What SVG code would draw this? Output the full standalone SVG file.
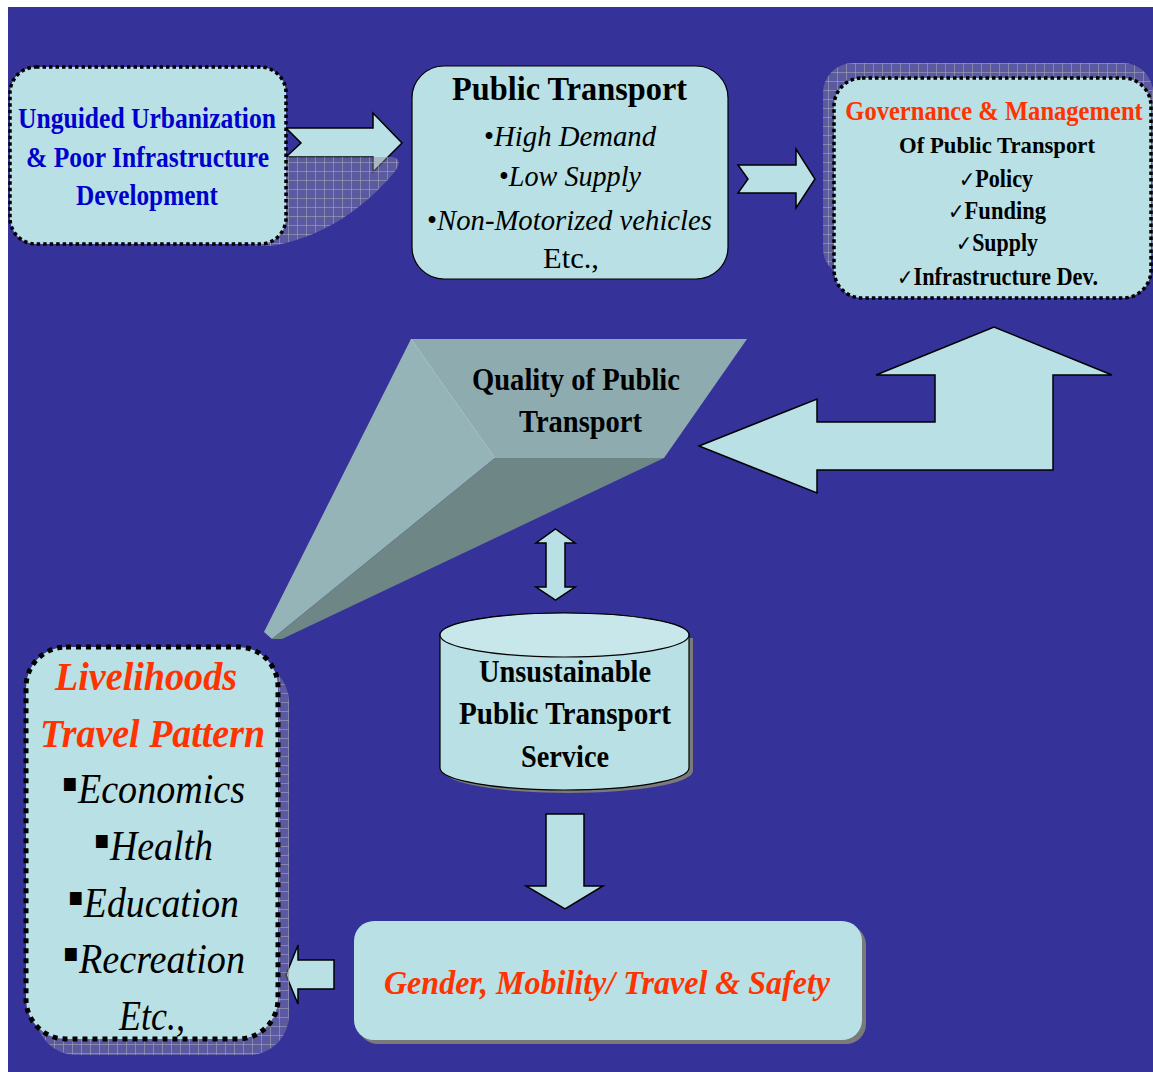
<svg xmlns="http://www.w3.org/2000/svg" width="1153" height="1072" viewBox="0 0 1153 1072">
<defs>
<pattern id="grid" width="9" height="9" patternUnits="userSpaceOnUse">
<rect width="9" height="9" fill="#8a8aa8" fill-opacity="0.45"/>
<path d="M0,0.5 H9 M0.5,0 V9" stroke="#b0b0b8" stroke-opacity="0.5" stroke-width="1" fill="none"/>
</pattern>
<style>
.box{fill:#b9e0e4}
.arrow{fill:#b9e0e4;stroke:#000;stroke-width:1.5;stroke-linejoin:miter}
.t{font-family:"Liberation Serif","Times New Roman",serif;text-anchor:middle}
.b{font-weight:bold}
.i{font-style:italic}
.blue{fill:#0000cc}
.red{fill:#ff3300}
.blk{fill:#000}
.sym{font-family:"DejaVu Sans",sans-serif;font-style:normal;font-weight:normal}
</style>
</defs>
<rect x="0" y="0" width="1153" height="1072" fill="#ffffff"/>
<rect x="8" y="7" width="1145" height="1065" fill="#35339a"/>

<g id="connectors">
<path class="arrow" d="M286,128 L373,128 L373,113 L402,143 L373,172 L373,157 L286,157 L301,143 Z"/>
<path class="arrow" d="M738,165 L796,165 L796,149 L815,179 L796,208 L796,193 L738,193 L748,179 Z"/>
<path class="arrow" d="M699,446 L817,399 L817,422 L935,422 L935,375 L876,375 L994,327 L1112,375 L1053,375 L1053,470 L817,470 L817,493 Z"/>
<path class="arrow" d="M555.5,529 L575,543 L565,543 L565,587 L575,587 L555.5,600 L536,587 L546,587 L546,543 L536,543 Z"/>
<path class="arrow" d="M546,814 L584,814 L584,886 L603,886 L565,909 L526,886 L546,886 Z"/>
<path class="arrow" d="M286,975 L298,945 L298,960 L334,960 L334,989 L298,989 L298,1004 Z"/>
</g>

<g id="node-urbanization">
<path d="M270,157 L392,157 Q403,159 396,170 C372,200 330,236 272,246 L250,246 Z" fill="url(#grid)"/>
<rect class="box" x="10" y="67" width="276" height="177" rx="26" stroke="#000" stroke-width="3.5" stroke-dasharray="3.5 3"/>
<text class="t b blue" font-size="30" x="147" y="128" textLength="258" lengthAdjust="spacingAndGlyphs">Unguided Urbanization</text>
<text class="t b blue" font-size="30" x="147.5" y="167" textLength="243" lengthAdjust="spacingAndGlyphs">&amp; Poor Infrastructure</text>
<text class="t b blue" font-size="30" x="147" y="205" textLength="142" lengthAdjust="spacingAndGlyphs">Development</text>
</g>

<g id="node-public-transport">
<rect class="box" x="412" y="66" width="316" height="213" rx="32" stroke="#000" stroke-width="1.2"/>
<text class="t b blk" font-size="33" x="569.5" y="100" textLength="235" lengthAdjust="spacingAndGlyphs">Public Transport</text>
<text class="t i blk" font-size="30" x="570" y="146" textLength="172" lengthAdjust="spacingAndGlyphs"><tspan font-style="normal">•</tspan>High Demand</text>
<text class="t i blk" font-size="30" x="570" y="186" textLength="142" lengthAdjust="spacingAndGlyphs"><tspan font-style="normal">•</tspan>Low Supply</text>
<text class="t i blk" font-size="30" x="569.5" y="230" textLength="285" lengthAdjust="spacingAndGlyphs"><tspan font-style="normal">•</tspan>Non-Motorized vehicles</text>
<text class="t blk" font-size="30" x="571" y="268" textLength="56" lengthAdjust="spacingAndGlyphs">Etc.,</text>
</g>

<g id="node-governance">
<rect x="823" y="63" width="330" height="215" rx="30" fill="url(#grid)"/>
<rect class="box" x="834" y="78" width="317" height="220" rx="28" stroke="#000" stroke-width="3.5" stroke-dasharray="3.5 3"/>
<text class="t b red" font-size="28" transform="translate(994,120) scale(0.88,1)" x="0" y="0" textLength="338" lengthAdjust="spacingAndGlyphs">Governance &amp; Management</text>
<text class="t b blk" font-size="24" x="997" y="153" textLength="196" lengthAdjust="spacingAndGlyphs">Of Public Transport</text>
<text class="t b blk" font-size="25" x="996" y="187" textLength="74" lengthAdjust="spacingAndGlyphs"><tspan class="sym" font-size="22">✓</tspan>Policy</text>
<text class="t b blk" font-size="25" x="997" y="219" textLength="98" lengthAdjust="spacingAndGlyphs"><tspan class="sym" font-size="22">✓</tspan>Funding</text>
<text class="t b blk" font-size="25" x="997" y="251" textLength="82" lengthAdjust="spacingAndGlyphs"><tspan class="sym" font-size="22">✓</tspan>Supply</text>
<text class="t b blk" font-size="25" x="997.5" y="285" textLength="201" lengthAdjust="spacingAndGlyphs"><tspan class="sym" font-size="22">✓</tspan>Infrastructure Dev.</text>
</g>

<g id="node-quality">
<polygon points="411,339 495,458 272,639 264,632" fill="#95b4b8"/>
<polygon points="411,339 747,339 664,458 495,458" fill="#8eacaf"/>
<polygon points="495,458 664,458 282,639 272,639" fill="#6f8686"/>
<path d="M411,339 L495,458" stroke="#a9c6c9" stroke-width="1" fill="none"/>
<text class="t b blk" font-size="31" x="576" y="390" textLength="208" lengthAdjust="spacingAndGlyphs">Quality of Public</text>
<text class="t b blk" font-size="31" x="580.5" y="432" textLength="123" lengthAdjust="spacingAndGlyphs">Transport</text>
</g>

<g id="node-unsustainable">
<path d="M444,638 L444,771 A124.5,22 0 0 0 693,771 L693,638 Z" fill="#7a7a7a"/>
<path class="box" d="M440,635 L440,768 A124.5,22 0 0 0 689,768 L689,635 A124.5,22 0 0 0 440,635 Z" stroke="#000" stroke-width="1.2"/>
<ellipse cx="564.5" cy="635" rx="124.5" ry="22" fill="#c8e7ea" stroke="#000" stroke-width="1.2"/>
<text class="t b blk" font-size="31" x="565" y="682" textLength="172" lengthAdjust="spacingAndGlyphs">Unsustainable</text>
<text class="t b blk" font-size="31" x="565" y="724" textLength="212" lengthAdjust="spacingAndGlyphs">Public Transport</text>
<text class="t b blk" font-size="31" x="565" y="767" textLength="88" lengthAdjust="spacingAndGlyphs">Service</text>
</g>

<g id="node-gender">
<rect x="358" y="925" width="508" height="119" rx="20" fill="#7a7a7a"/>
<rect class="box" x="354" y="921" width="508" height="119" rx="20"/>
<text class="t b i red" font-size="34" x="607" y="994" textLength="446" lengthAdjust="spacingAndGlyphs">Gender, Mobility/ Travel &amp; Safety</text>
</g>

<g id="node-livelihoods">
<rect x="36" y="662" width="253" height="393" rx="40" fill="url(#grid)"/>
<rect class="box" x="26" y="647" width="252" height="392" rx="40" stroke="#000" stroke-width="5" stroke-dasharray="5 5"/>
<text class="t b i red" font-size="40" x="146" y="690" textLength="182" lengthAdjust="spacingAndGlyphs">Livelihoods</text>
<text class="t b i red" font-size="40" x="152.5" y="747" textLength="225" lengthAdjust="spacingAndGlyphs">Travel Pattern</text>
<text class="t i blk" font-size="42" x="153.5" y="803" textLength="183" lengthAdjust="spacingAndGlyphs"><tspan class="sym" font-size="26" dy="-12">▪</tspan><tspan dy="12">Economics</tspan></text>
<text class="t i blk" font-size="42" x="153.5" y="860" textLength="119" lengthAdjust="spacingAndGlyphs"><tspan class="sym" font-size="26" dy="-12">▪</tspan><tspan dy="12">Health</tspan></text>
<text class="t i blk" font-size="42" x="153.5" y="917" textLength="171" lengthAdjust="spacingAndGlyphs"><tspan class="sym" font-size="26" dy="-12">▪</tspan><tspan dy="12">Education</tspan></text>
<text class="t i blk" font-size="42" x="154" y="973" textLength="182" lengthAdjust="spacingAndGlyphs"><tspan class="sym" font-size="26" dy="-12">▪</tspan><tspan dy="12">Recreation</tspan></text>
<text class="t i blk" font-size="42" x="152" y="1030" textLength="66" lengthAdjust="spacingAndGlyphs">Etc.,</text>
</g>
</svg>
